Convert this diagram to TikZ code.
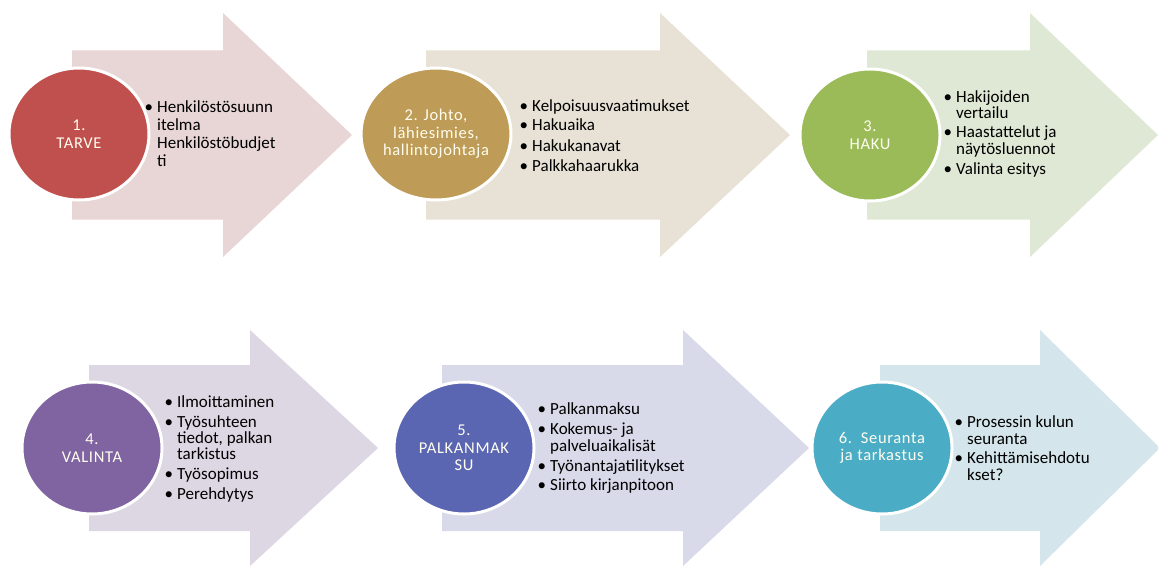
\documentclass[tikz,border=0pt]{standalone}
\usepackage{fontspec}
\setmainfont{Carlito}
\newfontfamily\circfont[LetterSpace=4]{Carlito}
\usetikzlibrary{shapes.geometric}
\definecolor{cA}{HTML}{C0504D}
\definecolor{cB}{HTML}{BE9B56}
\definecolor{cC}{HTML}{9BBB59}
\definecolor{cD}{HTML}{8064A2}
\definecolor{cE}{HTML}{5B66B3}
\definecolor{cF}{HTML}{4BACC6}
\definecolor{aA}{HTML}{E8D5D5}
\definecolor{aB}{HTML}{E8E2D6}
\definecolor{aC}{HTML}{DFE8D5}
\definecolor{aD}{HTML}{DDD7E4}
\definecolor{aE}{HTML}{D8D9E9}
\definecolor{aF}{HTML}{D4E5EB}
\newcommand{\bigarrow}[7]{%
  \fill[#1] (#2,#5-#6) -- (#3,#5-#6) -- (#3,#5-#7) -- (#4,#5) -- (#3,#5+#7) -- (#3,#5+#6) -- (#2,#5+#6) -- cycle;}
\newcommand{\bul}{\llap{\textbullet\hspace{4pt}}}
\begin{document}
\begin{tikzpicture}[x=1pt,y=-1pt,
  stage/.style={ellipse, draw=white, line width=3pt, minimum width=140pt, minimum height=132pt,
    inner sep=0pt, text=white!94!yellow, align=center, font=\circfont\fontsize{16.5}{17.5}\selectfont},
  item/.style={anchor=base west, align=left, inner sep=0pt, text=black,
    font=\fontsize{17}{17}\selectfont}]
\useasboundingbox[fill=white] (0,0) rectangle (1158,567);
% arrows
\bigarrow{aA}{72}{223}{352}{135}{84.5}{122}
\bigarrow{aB}{426}{660}{790}{135}{84.5}{122}
\bigarrow{aC}{867}{1030}{1158}{135}{84.5}{122}
\bigarrow{aD}{89}{250}{378}{448}{83}{118}
\bigarrow{aE}{442}{683}{809}{448}{83}{118}
\bigarrow{aF}{880}{1040}{1160}{448}{83}{118}
% circles
\node[stage, fill=cA] (s1) at (79,134) {1.\\TARVE};
\node[stage, fill=cB] (s2) at (436,134) {2. Johto,\\lähiesimies,\\hallintojohtaja};
\node[stage, fill=cC] (s3) at (870,135) {3.\\HAKU};
\node[stage, fill=cD] (s4) at (92,448) {4.\\VALINTA};
\node[stage, fill=cE] (s5) at (464,448) {5.\\PALKANMAK\\SU};
\node[stage, fill=cF] (s6) at (882,448) {6.\ \ Seuranta\\ja tarkastus};
% texts 1 (base anchor = last line)
\node[item, font=\fontsize{17}{18}\selectfont] (t1a) at (157,166) {\bul Henkilöstösuunn\\itelma\\Henkilöstöbudjet\\ti};
% texts 2
\node[item] (t2a) at (532,111) {\bul Kelpoisuusvaatimukset};
\node[item] (t2b) at (532,131) {\bul Hakuaika};
\node[item] (t2c) at (532,151) {\bul Hakukanavat};
\node[item] (t2d) at (532,171) {\bul Palkkahaarukka};
% texts 3
\node[item] (t3a) at (956,119) {\bul Hakijoiden\\vertailu};
\node[item] (t3b) at (956,154) {\bul Haastattelut ja\\näytösluennot};
\node[item] (t3c) at (956,174) {\bul Valinta esitys};
% texts 4
\node[item] (t4a) at (177,407) {\bul Ilmoittaminen};
\node[item, font=\fontsize{17}{16}\selectfont] (t4b) at (177,459) {\bul Työsuhteen\\tiedot, palkan\\tarkistus};
\node[item] (t4c) at (177,479) {\bul Työsopimus};
\node[item] (t4d) at (177,499) {\bul Perehdytys};
% texts 5
\node[item] (t5a) at (550,414) {\bul Palkanmaksu};
\node[item] (t5b) at (550,451) {\bul Kokemus- ja\\palveluaikalisät};
\node[item] (t5c) at (550,471) {\bul Työnantajatilitykset};
\node[item] (t5d) at (550,490) {\bul Siirto kirjanpitoon};
% texts 6
\node[item] (t6a) at (967,444) {\bul Prosessin kulun\\seuranta};
\node[item] (t6b) at (967,480) {\bul Kehittämisehdotu\\kset?};
\end{tikzpicture}
\end{document}
